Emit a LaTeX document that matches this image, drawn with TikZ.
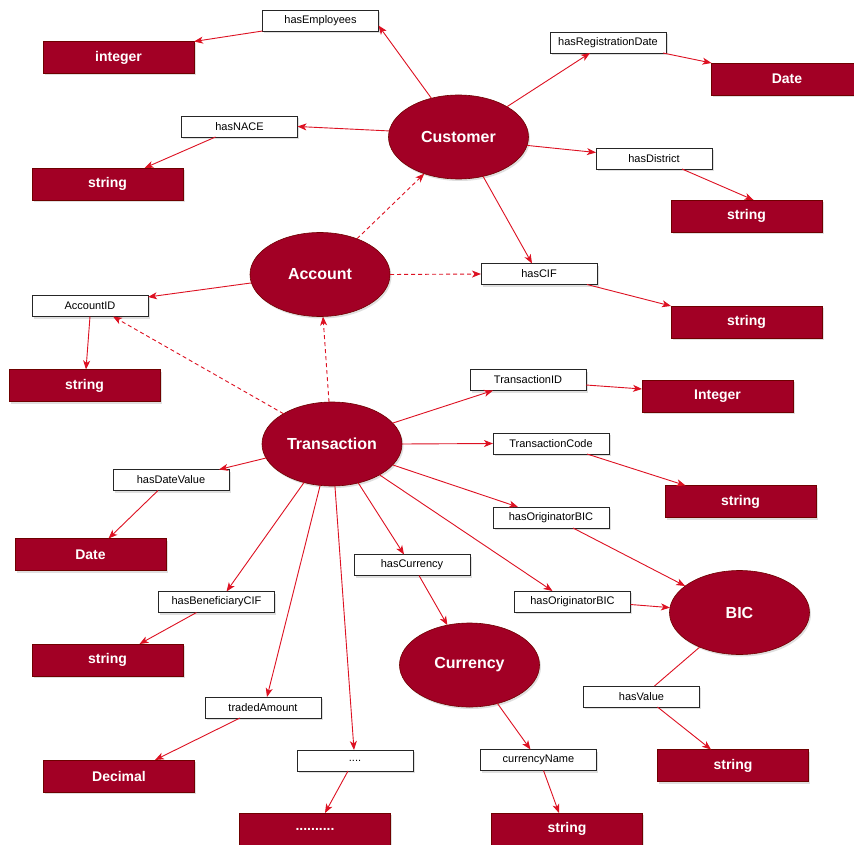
\documentclass[tikz,border=0pt]{standalone}
\usepackage{fontspec}
\setmainfont{Liberation Sans}
\usetikzlibrary{shapes.geometric,arrows.meta,shadows}
\definecolor{crimson}{HTML}{A20025}
\definecolor{crimsonline}{HTML}{6F0000}
\definecolor{edgered}{HTML}{DD1122}

\tikzset{
  base/.style={drop shadow={shadow xshift=1.5pt,shadow yshift=-2pt,opacity=0.25}},
  entity/.style={ellipse, base, fill=crimson, draw=crimsonline, line width=0.6pt,
    minimum width=140pt, minimum height=84pt, inner sep=0pt, outer sep=0pt,
    text=white, font=\fontsize{16}{18}\selectfont\bfseries},
  prop/.style={rectangle, base, fill=white, draw=black!85, line width=0.8pt,
    minimum width=116pt, minimum height=21pt, inner sep=0pt, outer sep=0pt,
    font=\fontsize{11}{13}\selectfont},
  valuebox/.style={rectangle, base, fill=crimson, draw=crimsonline, line width=0.6pt,
    minimum width=151pt, minimum height=32pt, inner sep=0pt, outer sep=0pt,
    text=white, font=\fontsize{14}{16}\selectfont\bfseries},
  plainlink/.style={draw=edgered, line width=0.9pt},
  link/.style={plainlink, -{Stealth[length=9pt,width=7pt,inset=2.5pt]}},
  dlink/.style={link, dash pattern=on 4pt off 3pt},
}

\begin{document}
\begin{tikzpicture}[x=1pt,y=-1pt]
\fill[white] (0,0) rectangle (854,845);
\useasboundingbox (0,0) rectangle (854,845);

% Customer and its properties
\node[entity] (cust) at (458.5,137) {Customer};
\node[prop] (hasEmp) at (320.5,20.5) {hasEmployees};
\node[valuebox] (vInt) at (118.5,57.5) {integer};
\node[prop] (hasNace) at (239.5,126.5) {hasNACE};
\node[valuebox] (vNace) at (107.5,184) {string};
\node[prop] (hasReg) at (608,42.5) {hasRegistrationDate};
\node[valuebox] (vReg) at (787,79) {Date};
\node[prop] (hasDist) at (654,158.5) {hasDistrict};
\node[valuebox] (vDist) at (746.5,216) {string};
\node[prop] (hasCif) at (539,274) {hasCIF};
\node[valuebox] (vCif) at (746.5,322) {string};

% Account
\node[entity] (acct) at (320,274.5) {Account};
\node[prop] (accId) at (90,306) {AccountID};
\node[valuebox] (vAccId) at (84.5,385.5) {string};

% Transaction and its properties
\node[entity] (trans) at (332,444) {Transaction};
\node[prop] (tId) at (528,380) {TransactionID};
\node[valuebox] (vTId) at (717.5,396) {Integer};
\node[prop] (tCode) at (551,443.5) {TransactionCode};
\node[valuebox] (vTCode) at (740.5,501.5) {string};
\node[prop] (hob1) at (551,517.5) {hasOriginatorBIC};
\node[prop] (hdv) at (171,480) {hasDateValue};
\node[valuebox] (vDate) at (90.5,554.5) {Date};
\node[prop] (hbc) at (216.5,602) {hasBeneficiaryCIF};
\node[valuebox] (vBen) at (107.5,660) {string};
\node[prop] (tAmt) at (263,707.5) {tradedAmount};
\node[valuebox] (vDec) at (119,776) {Decimal};
\node[prop] (more) at (355,760.5) {....};
\node[valuebox] (vMore) at (315,829) {..........};
\node[prop] (hCur) at (412,565) {hasCurrency};
\node[prop] (hob2) at (572.5,601.5) {hasOriginatorBIC};

% Currency and BIC
\node[entity] (cur) at (469.5,665) {Currency};
\node[prop] (cName) at (538.5,760) {currencyName};
\node[valuebox] (vCur) at (567,829) {string};
\node[entity] (bic) at (739.5,612.5) {BIC};
\node[prop] (hVal) at (641.5,696.5) {hasValue};
\node[valuebox] (vVal) at (733,765.5) {string};

% Customer edges
\draw[link] (cust.125) -- ([yshift=-5pt]hasEmp.east);
\draw[link] (hasEmp.south west) -- (vInt.north east);
\draw[link] (cust.175) -- (hasNace.east);
\draw[link] ([xshift=-24pt]hasNace.south) -- ([xshift=37pt]vNace.north);
\draw[link] (cust.32) -- ([xshift=-18pt]hasReg.south);
\draw[link] ([xshift=-3pt]hasReg.south east) -- (vReg.north west);
\draw[link] (cust.-7) -- ([yshift=6pt]hasDist.west);
\draw[link] ([xshift=28pt]hasDist.south) -- ([xshift=7pt]vDist.north);
\draw[link] (cust.-58) -- ([xshift=-7pt]hasCif.north);
\draw[link] ([xshift=48pt]hasCif.south) -- (vCif.north west);

% Account edges
\draw[dlink] (acct.44) -- (cust.-133);
\draw[dlink] (acct.east) -- (hasCif.west);
\draw[link] (acct.187) -- ([yshift=9pt]accId.east);
\draw[link] (accId.south) -- ([xshift=1.5pt]vAccId.north);

% Transaction edges
\draw[dlink] (trans.148) -- ([xshift=23pt]accId.south);
\draw[dlink] ([xshift=-3pt]trans.north) -- ([xshift=3pt]acct.south);
\draw[link] (trans.19) -- ([xshift=-35pt]tId.south);
\draw[link] ([yshift=-5pt]tId.east) -- ([yshift=7pt]vTId.west);
\draw[link] (trans.east) -- (tCode.west);
\draw[link] ([xshift=36pt]tCode.south) -- ([xshift=-55pt]vTCode.north);
\draw[link] (trans.-19) -- ([xshift=-33pt]hob1.north);
\draw[link] ([xshift=22pt]hob1.south) -- (bic.154);
\draw[link] (trans.-33) -- ([xshift=-20pt]hob2.north);
\draw[link] ([yshift=-3pt]hob2.east) -- (bic.176);
\draw[link] (trans.-56) -- ([xshift=-8pt]hCur.north);
\draw[link] ([xshift=7pt]hCur.south) -- (cur.119);
\draw[link] (trans.192) -- ([xshift=48pt]hdv.north);
\draw[link] ([xshift=-13pt]hdv.south) -- ([xshift=18pt]vDate.north);
\draw[link] (trans.-126) -- ([xshift=10pt]hbc.north);
\draw[link] ([xshift=-20pt]hbc.south) -- ([xshift=32pt]vBen.north);
\draw[link] (trans.-106) -- ([xshift=4pt]tAmt.north);
\draw[link] ([xshift=-23pt]tAmt.south) -- ([xshift=36pt]vDec.north);
\draw[link] (trans.-86) -- ([xshift=-1pt]more.north);
\draw[link] ([xshift=-7pt]more.south) -- ([xshift=10pt]vMore.north);

% Currency and BIC edges
\draw[link] (cur.-54) -- ([xshift=-8pt]cName.north);
\draw[link] ([xshift=5pt]cName.south) -- ([xshift=-8pt]vCur.north);
\draw[plainlink] (bic.-139) -- ([xshift=13pt]hVal.north);
\draw[link] ([xshift=16pt]hVal.south) -- ([xshift=-22pt]vVal.north);
\end{tikzpicture}
\end{document}
